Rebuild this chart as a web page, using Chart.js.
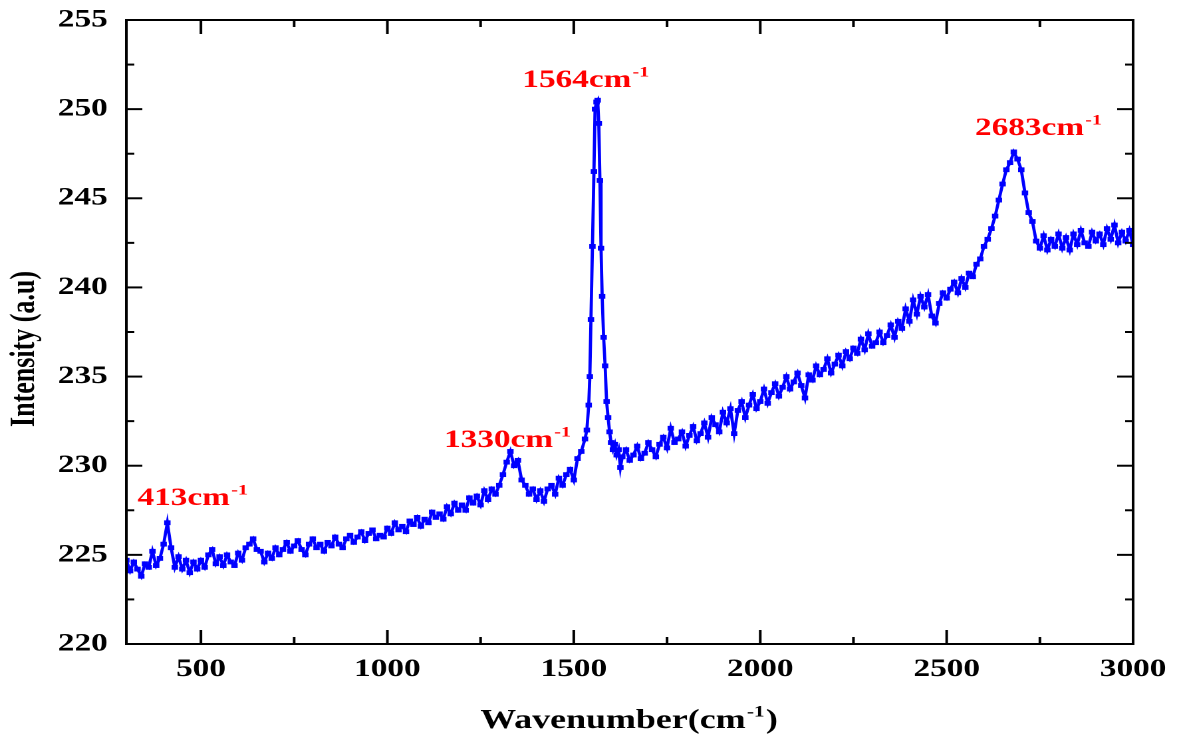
<!DOCTYPE html>
<html>
<head>
<meta charset="utf-8">
<title>Raman spectrum</title>
<script src="https://cdn.jsdelivr.net/npm/chart.js@4/dist/chart.umd.min.js"></script>
<style>
  html, body { margin: 0; padding: 0; background: #fff; overflow: hidden; }
  /* the reference figure is stretched sideways, so draw narrow and scale */
  #wrap { width: 885px; height: 738px; transform: scaleX(1.32994); transform-origin: 0 0; }
</style>
</head>
<body>
<div id="wrap"><canvas id="chart" width="885" height="738"></canvas></div>
<script>
// wavenumber (cm-1) for every sample
const wavenumber = [
  300, 310, 320, 330, 340, 350, 360, 370, 380, 390,
  400, 410, 420, 430, 440, 450, 460, 470, 480, 490,
  500, 510, 520, 530, 540, 550, 560, 570, 580, 590,
  600, 610, 620, 630, 640, 650, 660, 670, 680, 690,
  700, 710, 720, 730, 740, 750, 760, 770, 780, 790,
  800, 810, 820, 830, 840, 850, 860, 870, 880, 890,
  900, 910, 920, 930, 940, 950, 960, 970, 980, 990,
  1000, 1010, 1020, 1030, 1040, 1050, 1060, 1070, 1080, 1090,
  1100, 1110, 1120, 1130, 1140, 1150, 1160, 1170, 1180, 1190,
  1200, 1210, 1220, 1230, 1240, 1250, 1260, 1270, 1280, 1290,
  1300, 1310, 1320, 1330, 1340, 1350, 1360, 1370, 1380, 1390,
  1400, 1410, 1420, 1430, 1440, 1450, 1460, 1470, 1480, 1490,
  1500, 1510, 1520, 1530,
  1535, 1540, 1543, 1546, 1550, 1554, 1557, 1561, 1564, 1567,
  1570, 1573, 1576, 1580, 1584, 1588, 1592, 1596, 1600, 1605,
  1610, 1615, 1620, 1625, 1630,
  1640, 1650, 1660, 1670, 1680, 1690, 1700, 1710, 1720, 1730,
  1740, 1750, 1760, 1770, 1780, 1790, 1800, 1810, 1820, 1830,
  1840, 1850, 1860, 1870, 1880, 1890, 1900, 1910, 1920, 1930,
  1940, 1950, 1960, 1970, 1980, 1990, 2000, 2010, 2020, 2030,
  2040, 2050, 2060, 2070, 2080, 2090, 2100, 2110, 2120, 2130,
  2140, 2150, 2160, 2170, 2180, 2190, 2200, 2210, 2220, 2230,
  2240, 2250, 2260, 2270, 2280, 2290, 2300, 2310, 2320, 2330,
  2340, 2350, 2360, 2370, 2380, 2390, 2400, 2410, 2420, 2430,
  2440, 2450, 2460, 2470, 2480, 2490, 2500, 2510, 2520, 2530,
  2540, 2550, 2560, 2570, 2580, 2590, 2600, 2610, 2620, 2630,
  2640, 2650, 2660, 2670, 2680, 2690, 2700, 2710, 2720, 2730,
  2740, 2750, 2760, 2770, 2780, 2790, 2800, 2810, 2820, 2830,
  2840, 2850, 2860, 2870, 2880, 2890, 2900, 2910, 2920, 2930,
  2940, 2950, 2960, 2970, 2980, 2990, 3000,
];

// intensity (a.u)
const intensity = [
  224.7, 224.1, 224.6, 224.2, 223.8, 224.5, 224.3, 225.2, 224.4, 224.8,
  225.6, 226.8, 225.4, 224.3, 224.9, 224.2, 224.7, 224.0, 224.6, 224.2,
  224.7, 224.3, 225.0, 225.3, 224.5, 224.9, 224.4, 225.0, 224.6, 224.4,
  225.1, 224.7, 225.4, 225.6, 225.9, 225.3, 225.2, 224.6, 225.1, 224.8,
  225.4, 225.0, 225.3, 225.7, 225.2, 225.5, 225.8, 225.3, 225.0, 225.6,
  225.9, 225.4, 225.6, 225.2, 225.7, 225.5, 226.0, 225.6, 225.4, 225.9,
  226.1, 225.7, 226.0, 226.3, 225.8, 226.2, 226.4, 225.9, 226.1, 226.0,
  226.5, 226.2, 226.8, 226.4, 226.6, 226.3, 226.9, 226.7, 227.1, 226.6,
  227.0, 226.8, 227.4, 227.1, 227.3, 227.0, 227.7, 227.3, 227.9, 227.5,
  227.8, 227.5, 228.2, 227.9, 228.3, 227.8, 228.6, 228.1, 228.7, 228.4,
  228.9, 229.5, 230.2, 230.8, 230.0, 230.3, 229.2, 228.9, 228.4, 228.7,
  228.1, 228.6, 228.0, 228.7, 228.9, 228.4, 229.3, 228.9, 229.5, 229.8,
  229.2, 230.4, 230.8, 231.5,
  232.0, 233.4, 235.0, 238.2, 242.3, 246.5, 250.0, 250.4, 250.5, 249.2,
  246.0, 242.2, 239.5, 237.2, 235.6, 233.6, 232.7, 231.9, 231.3, 230.9,
  231.2, 230.6, 230.9, 229.9, 230.5,
  230.9, 230.3, 230.6, 231.1, 230.4, 230.7, 231.3, 230.9, 230.5, 231.2,
  231.6, 231.0, 232.1, 231.3, 231.5, 231.9, 231.1, 231.7, 232.2, 231.4,
  231.8, 232.4, 231.6, 232.7, 232.3, 231.9, 233.0, 232.4, 233.2, 231.8,
  233.1, 233.6, 232.7, 233.4, 234.0, 233.2, 233.6, 234.3, 233.5, 234.1,
  234.6, 233.9, 234.4, 235.0, 234.3, 234.7, 235.2, 234.5, 233.8, 235.1,
  234.8, 235.6, 235.1, 235.4, 236.0, 235.2, 235.7, 236.2, 235.6, 236.4,
  236.0, 236.6, 236.3, 237.1, 236.5, 237.4, 236.7, 236.9, 237.5, 236.9,
  237.3, 237.9, 237.2, 238.1, 237.7, 238.8, 238.1, 239.3, 238.5, 239.5,
  238.9, 239.6, 238.4, 238.0, 239.1, 239.7, 239.4, 239.9, 240.3, 239.7,
  240.5, 240.0, 240.8, 240.6, 241.3, 241.6, 242.3, 242.7, 243.3, 244.0,
  244.9, 245.8, 246.6, 247.0, 247.6, 247.2, 246.6, 245.3, 244.2, 243.7,
  242.6, 242.2, 242.9, 242.1, 242.7, 242.3, 243.0, 242.2, 242.8, 242.1,
  243.0, 242.4, 243.2, 242.5, 242.3, 243.1, 242.6, 243.0, 242.4, 243.3,
  242.7, 243.5, 242.5, 243.1, 242.6, 243.2, 242.4,
];

const xTicks = [500, 1000, 1500, 2000, 2500, 3000];
const xMinorTicks = [750, 1250, 1750, 2250, 2750];
const yTicks = [220, 225, 230, 235, 240, 245, 250, 255];
const yMinorTicks = [222.5, 227.5, 232.5, 237.5, 242.5, 247.5, 252.5];

// peak annotations: text, left edge (cm-1), baseline (a.u)
const peakNames = ['413', '1330', '1564', '2683'];
const peakLabelX = [330, 1152, 1362, 2576];
const peakLabelY = [227.8, 231.05, 251.25, 248.55];

const FONT = "'Liberation Serif', 'Times New Roman', serif";
const BLUE = '#0000ff';

// text with a raised "-1" after it
function drawSup(ctx, base, sup, tail, x, y, size) {
  ctx.font = `bold ${size}px ${FONT}`;
  ctx.fillText(base, x, y);
  let w = ctx.measureText(base).width;
  const small = Math.round(size * 0.6);
  ctx.font = `bold ${small}px ${FONT}`;
  ctx.fillText(sup, x + w + 1, y - size * 0.42);
  w += ctx.measureText(sup).width + 2;
  if (tail) {
    ctx.font = `bold ${size}px ${FONT}`;
    ctx.fillText(tail, x + w, y);
  }
}

function measureSup(ctx, base, sup, tail, size) {
  ctx.font = `bold ${size}px ${FONT}`;
  const w = ctx.measureText(base).width + ctx.measureText(tail).width;
  ctx.font = `bold ${Math.round(size * 0.6)}px ${FONT}`;
  return w + ctx.measureText(sup).width + 3;
}

const framePlugin = {
  id: 'framePlugin',
  afterDraw(chart) {
    const { ctx, chartArea: a, scales: { x, y } } = chart;
    ctx.save();
    ctx.strokeStyle = '#000';
    ctx.lineWidth = 2;
    ctx.strokeRect(a.left, a.top, a.right - a.left, a.bottom - a.top);

    const seg = (x1, y1, x2, y2) => { ctx.beginPath(); ctx.moveTo(x1, y1); ctx.lineTo(x2, y2); ctx.stroke(); };
    // inward ticks on all four sides
    xTicks.forEach((v) => { const p = x.getPixelForValue(v); seg(p, a.bottom, p, a.bottom - 14); seg(p, a.top, p, a.top + 14); });
    xMinorTicks.forEach((v) => { const p = x.getPixelForValue(v); seg(p, a.bottom, p, a.bottom - 7); seg(p, a.top, p, a.top + 7); });
    yTicks.forEach((v) => { const p = y.getPixelForValue(v); seg(a.left, p, a.left + 12, p); seg(a.right, p, a.right - 12, p); });
    yMinorTicks.forEach((v) => { const p = y.getPixelForValue(v); seg(a.left, p, a.left + 6, p); seg(a.right, p, a.right - 6, p); });

    // peak labels
    ctx.fillStyle = '#ff0000';
    ctx.textBaseline = 'alphabetic';
    ctx.textAlign = 'left';
    peakNames.forEach((name, i) => {
      drawSup(ctx, name + 'cm', '-1', '', x.getPixelForValue(peakLabelX[i]), y.getPixelForValue(peakLabelY[i]), 25);
    });

    // axis titles
    ctx.fillStyle = '#000';
    const cx = (a.left + a.right) / 2;
    const tw = measureSup(ctx, 'Wavenumber(cm', '-1', ')', 27);
    drawSup(ctx, 'Wavenumber(cm', '-1', ')', cx - tw / 2, 728, 27);

    ctx.translate(19, 349);
    ctx.rotate(-Math.PI / 2);
    ctx.font = `bold 26px ${FONT}`;
    ctx.textAlign = 'center';
    ctx.textBaseline = 'middle';
    ctx.fillText('Intensity (a.u)', 0, 0);
    ctx.restore();
  },
};

const points = wavenumber.map((w, i) => ({ x: w, y: intensity[i] }));
const tickFont = { family: FONT, size: 25, weight: 'bold', lineHeight: 1 };

new Chart(document.getElementById('chart'), {
  type: 'line',
  data: {
    datasets: [{
      data: points,
      borderColor: BLUE,
      borderWidth: 2.4,
      backgroundColor: BLUE,
      pointStyle: 'rect',
      pointRadius: 3.4,
      pointBorderWidth: 0,
      pointBackgroundColor: BLUE,
      tension: 0,
      fill: false,
    }],
  },
  options: {
    responsive: false,
    devicePixelRatio: 2,
    animation: false,
    layout: { padding: { top: 20, right: 33, left: 0, bottom: 0 } },
    plugins: { legend: { display: false }, tooltip: { enabled: false } },
    scales: {
      x: {
        type: 'linear',
        min: 300,
        max: 3000,
        afterBuildTicks: (s) => { s.ticks = xTicks.map((v) => ({ value: v })); },
        afterFit: (s) => { s.height = 94; s.paddingLeft = 0; s.paddingRight = 0; },
        grid: { display: false, drawTicks: false },
        border: { display: false },
        ticks: { color: '#000', font: tickFont, padding: 13, maxRotation: 0, autoSkip: false, callback: (v) => String(v) },
      },
      y: {
        type: 'linear',
        min: 220,
        max: 255,
        afterBuildTicks: (s) => { s.ticks = yTicks.map((v) => ({ value: v })); },
        afterFit: (s) => { s.width = 95; s.paddingTop = 0; s.paddingBottom = 0; },
        grid: { display: false, drawTicks: false },
        border: { display: false },
        ticks: { color: '#000', font: tickFont, padding: 14, autoSkip: false, callback: (v) => String(v) },
      },
    },
  },
  plugins: [framePlugin],
});
</script>
</body>
</html>
